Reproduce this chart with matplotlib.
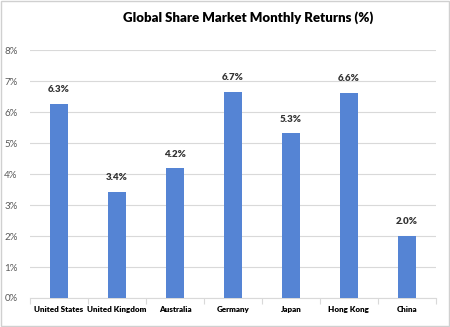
import matplotlib
matplotlib.use("Agg")
import matplotlib.pyplot as plt
from matplotlib.patches import Rectangle
from matplotlib.ticker import FuncFormatter, FixedLocator

categories = ["United States", "United Kingdom", "Australia", "Germany", "Japan", "Hong Kong", "China"]
returns = [6.27, 3.43, 4.18, 6.66, 5.31, 6.63, 2.01]
yticks = [0, 1, 2, 3, 4, 5, 6, 7, 8]
title = "Global Share Market Monthly Returns (%)"

plt.rcParams['font.family'] = ['Lato', 'DejaVu Sans']

fig = plt.figure(figsize=(4.5, 3.27), dpi=100)
fig.patches.append(Rectangle((0.002, 0.003), 0.995, 0.994, transform=fig.transFigure,
                             fill=False, edgecolor="#d0d0d0", linewidth=1.0))
ax = fig.add_axes([0.0667, 0.0887, 0.902, 0.758])

x = list(range(len(categories)))
ax.bar(x, returns, width=0.31, color="#5584d4", zorder=3)
for xi, v in zip(x, returns):
    ax.text(xi, v + 0.3, f"{v:.1f}%", ha="center", va="bottom", fontsize=7,
            fontweight="heavy", color="#333333")

ax.set_xlim(-0.5, len(categories) - 0.5)
ax.set_ylim(0, 8)
ax.set_yticks(yticks)
ax.yaxis.set_major_formatter(FuncFormatter(lambda v, p: f"{int(v)}%"))
ax.tick_params(axis="y", length=0, labelsize=7, labelcolor="#595959", pad=9)
ax.grid(axis="y", color="#d9d9d9", linewidth=0.8, zorder=0)

ax.set_xticks(x)
ax.set_xticklabels(categories, fontsize=5.8, fontweight="heavy", color="#000000")
ax.tick_params(axis="x", which="major", length=0, pad=6)
ax.xaxis.set_minor_locator(FixedLocator([i - 0.5 for i in range(len(categories) + 1)]))
ax.tick_params(axis="x", which="minor", length=4, color="#d9d9d9", width=0.8)

for s in ["top", "right", "left"]:
    ax.spines[s].set_visible(False)
ax.spines["bottom"].set_color("#d9d9d9")
ax.spines["bottom"].set_linewidth(0.8)

fig.text(0.552, 0.945, title, ha="center", va="center", fontsize=9.5, fontweight="heavy", color="#000000")

fig.savefig("out.png", dpi=100)
